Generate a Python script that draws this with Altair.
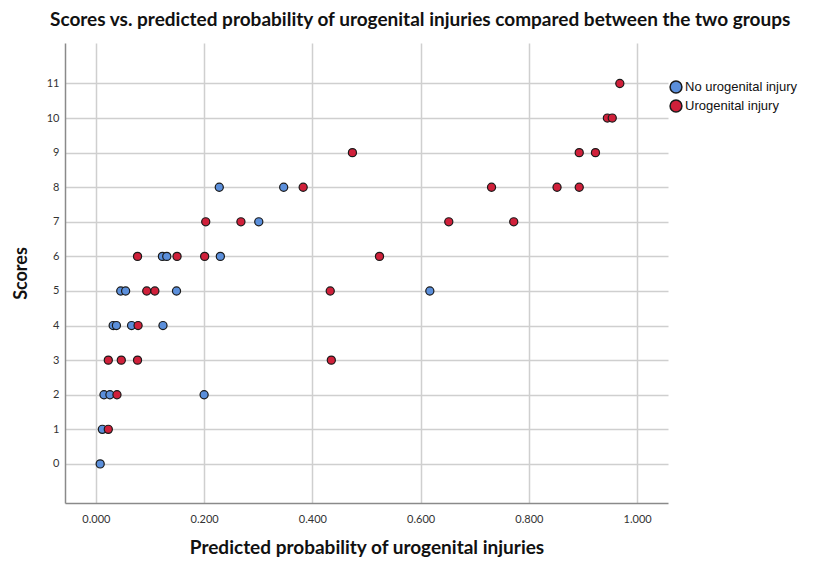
import altair as alt
import pandas as pd

# Data
blue_x = [0.228, 0.347, 0.301, 0.123, 0.131, 0.230, 0.046, 0.055, 0.149, 0.617,
          0.032, 0.038, 0.066, 0.124, 0.015, 0.026, 0.200, 0.012, 0.008]
blue_y = [8, 8, 7, 6, 6, 6, 5, 5, 5, 5, 4, 4, 4, 4, 2, 2, 2, 1, 0]

red_x = [0.968, 0.945, 0.954, 0.474, 0.893, 0.923, 0.383, 0.731, 0.852, 0.893,
         0.203, 0.268, 0.652, 0.772, 0.077, 0.150, 0.201, 0.524, 0.094, 0.109,
         0.433, 0.078, 0.023, 0.047, 0.077, 0.435, 0.039, 0.023]
red_y = [11, 10, 10, 9, 9, 9, 8, 8, 8, 8, 7, 7, 7, 7, 6, 6, 6, 6, 5, 5,
         5, 4, 3, 3, 3, 3, 2, 1]

groups = ["No urogenital injury", "Urogenital injury"]
colors = ["#5b8fdb", "#d0203a"]
y_ticks = list(range(0, 12))
x_ticks = [0.0, 0.2, 0.4, 0.6, 0.8, 1.0]

df = pd.DataFrame({
    "prob": blue_x + red_x,
    "score": blue_y + red_y,
    "group": [groups[0]] * len(blue_x) + [groups[1]] * len(red_x),
    "order": list(range(len(blue_x) + len(red_x))),
})

cond = "Lato, Liberation Sans, sans-serif"

chart = alt.Chart(df).mark_circle(
    size=66, opacity=1, stroke="#1a1a1a", strokeWidth=1.2
).encode(
    x=alt.X("prob:Q", scale=alt.Scale(domain=[-0.057, 1.057], nice=False, zero=False),
            axis=alt.Axis(values=x_ticks, format=".3f",
                          title="Predicted probability of urogenital injuries",
                          titleFont=cond, titleFontSize=19, titleFontWeight="bold",
                          titleColor="#111", titlePadding=14,
                          labelFont=cond, labelFontSize=11, labelColor="#333",
                          labelPadding=10, ticks=False,
                          domainColor="#8a8a8a", domainWidth=1.5,
                          gridColor="#cfcfcf", gridWidth=1.5)),
    y=alt.Y("score:Q", scale=alt.Scale(domain=[-1.13, 12.17], nice=False, zero=False),
            axis=alt.Axis(values=y_ticks, format="d",
                          title="Scores",
                          titleFont=cond, titleFontSize=18, titleFontWeight="bold",
                          titleColor="#111", titlePadding=16,
                          labelFont=cond, labelFontSize=11, labelColor="#333",
                          labelPadding=6, ticks=False,
                          domainColor="#8a8a8a", domainWidth=1.5,
                          gridColor="#cfcfcf", gridWidth=1.5)),
    color=alt.Color("group:N",
                    scale=alt.Scale(domain=groups, range=colors),
                    legend=alt.Legend(title=None, orient="none", legendX=604, legendY=37,
                                      symbolType="circle", symbolSize=140,
                                      symbolStrokeColor="#1a1a1a", symbolStrokeWidth=1.5,
                                      labelFont="Liberation Sans, Arial, sans-serif",
                                      labelFontSize=13, labelColor="#111",
                                      labelOffset=2, rowPadding=1)),
    order="order:Q",
).properties(
    width=603,
    height=460,
    autosize=alt.AutoSizeParams(type="none"),
    padding={"left": 57, "top": 35, "right": 140, "bottom": 56},
    title=alt.TitleParams(
        "Scores vs. predicted probability of urogenital injuries compared between the two groups",
        font=cond, fontSize=19, fontWeight="bold", color="#111",
        anchor="start", frame="group", dx=-15, offset=13),
).configure_view(stroke=None)

chart.save("out.html", embed_options={"renderer": "svg", "actions": False})
